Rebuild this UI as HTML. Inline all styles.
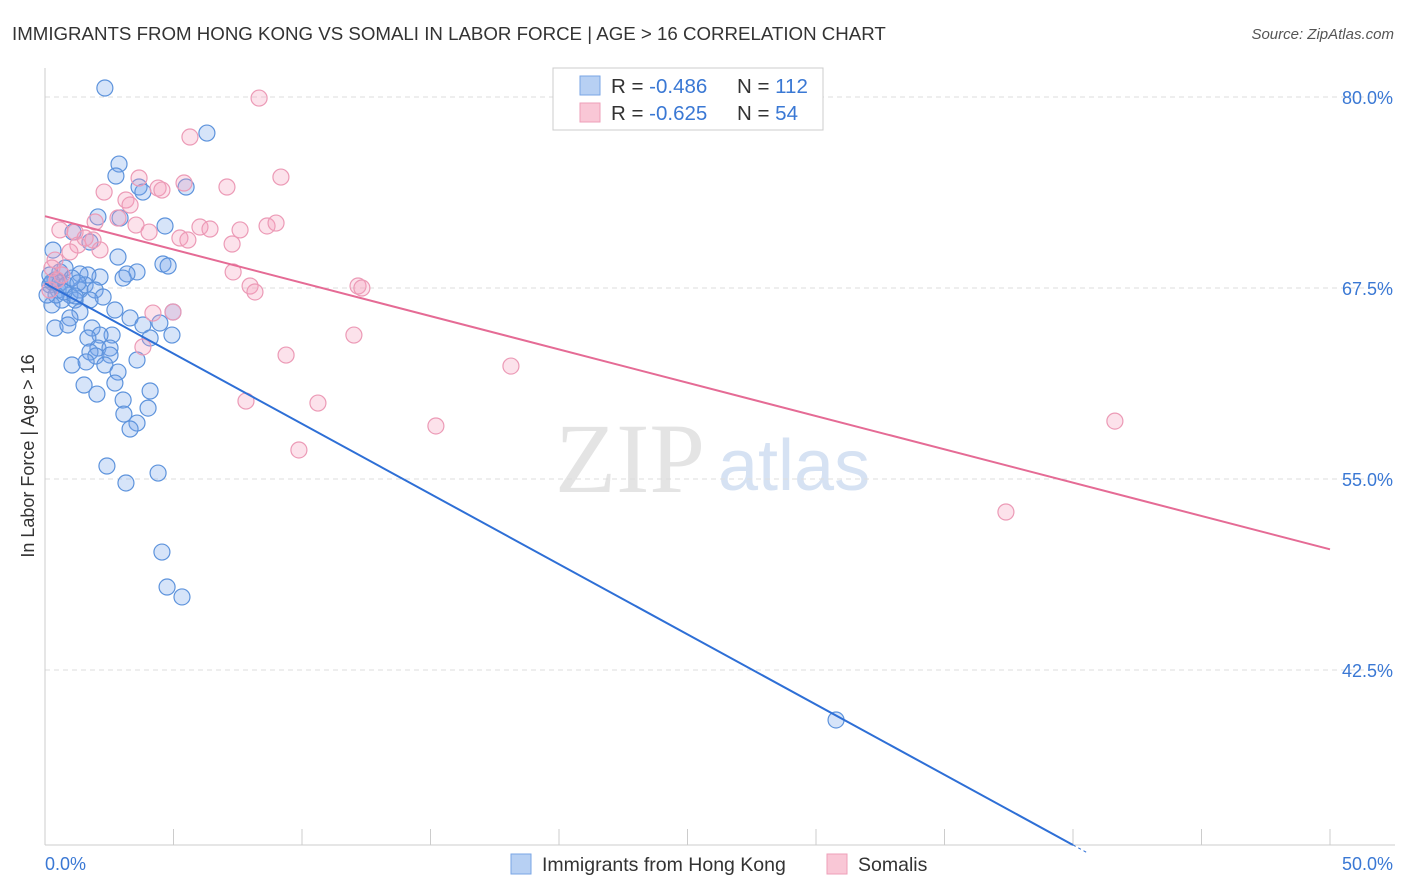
<!DOCTYPE html>
<html><head><meta charset="utf-8"><style>
body{margin:0;background:#fff;font-family:"Liberation Sans",sans-serif;}
#wrap{position:relative;width:1406px;height:892px;overflow:hidden;}
</style></head><body>
<div id="wrap">
<svg id="svg" width="1406" height="892" xmlns="http://www.w3.org/2000/svg" style="position:absolute;left:0;top:0">
<text x="12" y="40" font-size="18.7" fill="#333">IMMIGRANTS FROM HONG KONG VS SOMALI IN LABOR FORCE | AGE &gt; 16 CORRELATION CHART</text>
<text x="1394" y="39" font-size="15" fill="#555" font-style="italic" text-anchor="end">Source: ZipAtlas.com</text>
<text x="555" y="492" font-size="100" fill="#e4e4e4" font-family="Liberation Serif,serif">ZIP</text>
<text x="718" y="490" font-size="72" fill="#d6e2f3">atlas</text>
<text transform="translate(34,456) rotate(-90)" font-size="18" fill="#333" text-anchor="middle">In Labor Force | Age &gt; 16</text>
<g id="grid"></g><g id="marks"></g><g id="lines"></g>
<text x="45" y="870" font-size="18" fill="#3a78d4">0.0%</text>
<text x="1393" y="870" font-size="18" fill="#3a78d4" text-anchor="end">50.0%</text>
<g>
<rect x="553" y="68" width="270" height="62" fill="#fff" stroke="#ccc"/>
<rect x="580" y="76" width="20" height="19" fill="#b7d0f3" stroke="#7aa6e6"/>
<rect x="580" y="103" width="20" height="19" fill="#f9c7d6" stroke="#ee9fb8"/>
<text x="611" y="93" font-size="20.5" fill="#333">R = <tspan fill="#3a78d4">-0.486</tspan></text>
<text x="737" y="93" font-size="20.5" fill="#333">N = <tspan fill="#3a78d4">112</tspan></text>
<text x="611" y="120" font-size="20.5" fill="#333">R = <tspan fill="#3a78d4">-0.625</tspan></text>
<text x="737" y="120" font-size="20.5" fill="#333">N = <tspan fill="#3a78d4"> 54</tspan></text>
</g>
<g>
<rect x="511" y="854" width="20" height="20" fill="#b7d0f3" stroke="#7aa6e6"/>
<text x="542" y="871" font-size="19.5" fill="#333">Immigrants from Hong Kong</text>
<rect x="827" y="854" width="20" height="20" fill="#f9c7d6" stroke="#ee9fb8"/>
<text x="858" y="871" font-size="19.5" fill="#333">Somalis</text>
</g>
</svg>
</div>
<script>
const yTicks=[80,67.5,55,42.5];
const xTicks=[0,5,10,15,20,25,30,35,40,45,50];
const blueX=[2.33,6.30,2.88,2.76,3.66,3.81,5.49,2.06,4.67,2.92,0.31,1.09,1.75,2.84,4.59,4.79,3.58,3.19,3.04,2.14,1.67,1.36,0.78,0.58,0.39,0.19,0.51,0.97,1.36,1.56,1.95,2.26,1.75,1.17,0.66,0.27,2.72,1.36,0.97,0.39,0.89,1.83,3.31,3.81,4.47,4.98,4.94,4.09,2.61,2.14,1.67,2.06,2.53,1.75,1.98,2.53,1.05,1.60,2.33,3.58,2.84,2.72,1.52,2.02,4.09,3.04,4.01,3.07,3.58,3.31,2.41,4.40,3.15,4.55,4.75,5.33,30.78,0.19,0.27,0.58,0.82,1.05,1.28,0.43,0.74,1.17,0.08];
const blueY=[80.59,77.64,75.61,74.83,74.11,73.78,74.11,72.15,71.56,72.08,69.98,71.16,70.51,69.53,69.07,68.94,68.55,68.42,68.15,68.22,68.35,68.42,68.81,68.55,68.02,67.70,67.37,67.04,67.37,67.70,67.37,66.91,66.71,66.71,66.71,66.39,66.06,65.93,65.54,64.88,65.08,64.88,65.54,65.08,65.21,65.93,64.42,64.23,64.42,64.42,64.23,63.57,63.57,63.31,63.05,63.11,62.46,62.66,62.46,62.79,62.0,61.28,61.15,60.56,60.76,60.17,59.64,59.25,58.66,58.27,55.85,55.39,54.74,50.22,47.93,47.28,39.23,68.35,67.89,67.83,67.70,68.15,67.83,67.04,67.24,66.98,67.04];
const pinkX=[8.33,5.64,9.18,3.66,5.41,2.30,4.40,4.55,7.08,3.15,3.31,2.84,3.54,4.05,6.03,6.42,7.59,8.64,8.99,5.25,5.56,7.28,1.95,0.58,1.17,1.87,1.28,0.97,2.14,0.39,0.27,0.66,7.32,7.98,8.17,12.18,12.33,4.20,4.98,12.02,3.81,9.38,18.13,7.82,10.62,15.21,9.88,41.63,37.39,0.19,0.47,1.56];
const pinkY=[79.93,77.38,74.76,74.70,74.37,73.78,74.04,73.91,74.11,73.26,72.93,72.08,71.62,71.16,71.49,71.36,71.30,71.56,71.75,70.77,70.64,70.38,71.82,71.30,71.16,70.64,70.31,69.86,69.99,69.33,68.81,68.35,68.55,67.63,67.24,67.63,67.50,65.86,65.93,64.42,63.64,63.11,62.39,60.10,59.97,58.47,56.90,58.79,52.84,67.37,68.02,70.77];
const blueTrend=[[0,67.8],[40,31.05]];
const pinkTrend=[[0,72.2],[50,50.4]];
const NS="http://www.w3.org/2000/svg";
const X=v=>45+v*25.7, Y=v=>97+(80-v)*15.28;
function mk(t,a,p){const e=document.createElementNS(NS,t);for(const k in a)e.setAttribute(k,a[k]);p.appendChild(e);return e;}
const grid=document.getElementById('grid'),marks=document.getElementById('marks'),lines=document.getElementById('lines');
yTicks.forEach(v=>{
 const l=mk('line',{x1:45,x2:1395,y1:Y(v),y2:Y(v),stroke:'#ddd','stroke-dasharray':'5,4'},grid);
 
 
 const t=mk('text',{x:1393,y:Y(v)+7,'font-size':18,fill:'#3a78d4','text-anchor':'end'},grid);
 t.textContent=v.toFixed(1)+'%';
 
 
});
mk('line',{x1:45,x2:45,y1:68,y2:845,stroke:'#ccc'},grid);
mk('line',{x1:45,x2:1395,y1:845,y2:845,stroke:'#ccc'},grid);
xTicks.forEach(v=>{
 const l=mk('line',{x1:X(v),x2:X(v),y1:829,y2:845,stroke:'#ccc'},grid);
 
 
});
blueX.forEach((v,i)=>{
 const c=mk('circle',{cx:X(v),cy:Y(blueY[i]),r:8,fill:'rgba(120,165,235,0.3)',stroke:'#5d93dc','stroke-width':1.2},marks);
 
 
});
pinkX.forEach((v,i)=>{
 const c=mk('circle',{cx:X(v),cy:Y(pinkY[i]),r:8,fill:'rgba(245,160,190,0.3)',stroke:'#ec9ab6','stroke-width':1.2},marks);
 
 
});
const bl=mk('line',{x1:X(blueTrend[0][0]),y1:Y(blueTrend[0][1]),x2:X(blueTrend[1][0]),y2:Y(blueTrend[1][1]),stroke:'#2e6fd6','stroke-width':2},lines);


const s=(blueTrend[1][1]-blueTrend[0][1])/(blueTrend[1][0]-blueTrend[0][0]);
const bd=mk('line',{x1:X(blueTrend[1][0]),y1:Y(blueTrend[1][1]),x2:X(40.6),y2:Y(blueTrend[1][1]+s*0.6),stroke:'#2e6fd6','stroke-width':1,'stroke-dasharray':'3,3'},lines);


const pl=mk('line',{x1:X(pinkTrend[0][0]),y1:Y(pinkTrend[0][1]),x2:X(pinkTrend[1][0]),y2:Y(pinkTrend[1][1]),stroke:'#e56b95','stroke-width':2},lines);


</script>
</body></html>
